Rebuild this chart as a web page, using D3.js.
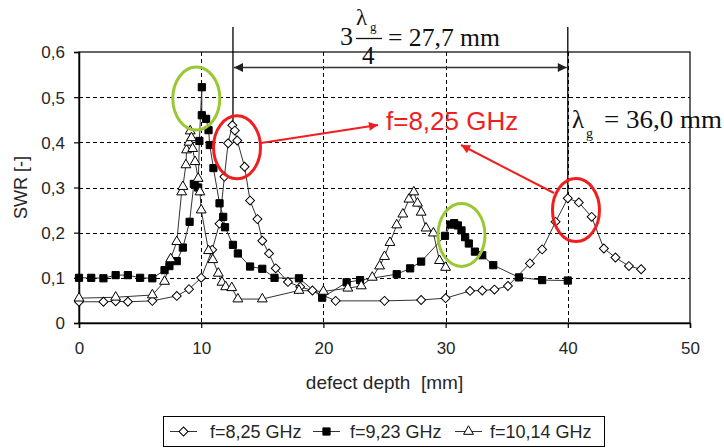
<!DOCTYPE html>
<html><head><meta charset="utf-8">
<script src="https://cdn.jsdelivr.net/npm/d3@7"></script>
<style>
html,body{margin:0;padding:0;background:#fff;}
svg{display:block;}
</style></head>
<body>
<svg id="chart" width="724" height="448"></svg>
<script>
// ---- data ----
const seriesNames = ["f=8,25 GHz", "f=9,23 GHz", "f=10,14 GHz"];
const xTicks = [0, 10, 20, 30, 40, 50];
const yTicks = [0, 0.1, 0.2, 0.3, 0.4, 0.5, 0.6];
const s825 = [[0,0.047],[2,0.047],[3,0.048],[4,0.047],[6,0.049],[8,0.06],[9,0.075],[10,0.10],[10.9,0.162],[11.5,0.22],[11.9,0.324],[12.2,0.398],[12.55,0.438],[12.75,0.426],[12.95,0.404],[13.55,0.346],[14.0,0.271],[14.6,0.23],[15.0,0.182],[15.55,0.154],[16.1,0.121],[17.1,0.091],[18.1,0.08],[19.1,0.072],[21,0.049],[25,0.049],[28,0.051],[30,0.055],[32,0.071],[33,0.072],[34,0.074],[35.1,0.082],[36.9,0.132],[37.9,0.163],[39,0.224],[40,0.276],[40.9,0.267],[41.95,0.235],[42.95,0.165],[43.9,0.145],[45,0.126],[46,0.119]];
const s923 = [[0,0.10],[1,0.10],[2,0.099],[3,0.106],[4,0.106],[5,0.10],[6,0.099],[7,0.117],[7.4,0.126],[8,0.137],[8.5,0.167],[9.05,0.224],[9.4,0.308],[9.75,0.300],[9.85,0.403],[10.05,0.522],[10.05,0.46],[10.4,0.452],[10.6,0.427],[10.7,0.394],[11.0,0.343],[11.5,0.265],[11.8,0.235],[11.95,0.212],[12.6,0.173],[13.0,0.154],[14.0,0.125],[15.0,0.12],[16.0,0.10],[18.0,0.099],[19.9,0.056],[21.9,0.09],[23.0,0.095],[26.0,0.108],[27.1,0.121],[28.0,0.136],[29.95,0.193],[30.4,0.218],[30.7,0.221],[31.0,0.216],[31.3,0.205],[31.6,0.19],[31.9,0.176],[32.4,0.158],[33.0,0.15],[33.9,0.128],[36.0,0.101],[37.9,0.095],[40.0,0.094]];
const s1014 = [[0,0.055],[3,0.057],[6,0.062],[7,0.092],[7.5,0.142],[8.0,0.18],[8.4,0.29],[8.5,0.302],[8.75,0.35],[8.8,0.383],[9.0,0.40],[9.1,0.425],[9.2,0.41],[9.3,0.386],[9.5,0.357],[9.75,0.32],[9.9,0.29],[10.0,0.25],[10.6,0.16],[10.95,0.14],[11.4,0.11],[11.7,0.09],[12.0,0.08],[12.5,0.078],[13.0,0.053],[15.0,0.053],[18.0,0.072],[20.0,0.07],[22.0,0.077],[23.1,0.082],[24.0,0.101],[24.6,0.126],[25.0,0.147],[25.45,0.178],[26.0,0.217],[26.5,0.241],[27.0,0.274],[27.4,0.29],[27.7,0.265],[28.0,0.245],[28.4,0.21],[29.0,0.199],[29.5,0.138],[30.0,0.123]];
// annotation anchors in data units
const lambdaMarks = [[12.6, 0.44], [40.0, 0.278]];
const ellipses = [
  {x: 9.6, y: 0.497, color: "#99c832"},
  {x: 12.93, y: 0.389, color: "#f01e1e"},
  {x: 31.3, y: 0.195, color: "#99c832"},
  {x: 40.67, y: 0.25, color: "#f01e1e"}
];

// ---- layout ----
const svg = d3.select("#chart");
const L = 79, R = 690, T = 52, B = 323;
const x = d3.scaleLinear().domain([0, 50]).range([L, R]);
const y = d3.scaleLinear().domain([0, 0.6]).range([B, T]);
const fmt = d => d === 0 ? "0" : d3.format(".1f")(d).replace(".", ",");
const textCol = "#262626";
const font = "Liberation Sans, Arial, sans-serif";
const serif = "Liberation Serif, Times New Roman, serif";

// gridlines
const grid = svg.append("g").attr("stroke", "#000").attr("stroke-width", 1).attr("stroke-dasharray", "4,3");
grid.selectAll("line.h").data(yTicks.filter(d => d > 0 && d < 0.6)).join("line")
  .attr("x1", L).attr("x2", R).attr("y1", d => Math.round(y(d)) + 0.5).attr("y2", d => Math.round(y(d)) + 0.5);
grid.selectAll("line.v").data(xTicks.filter(d => d > 0 && d < 50)).join("line")
  .attr("y1", T).attr("y2", B).attr("x1", d => Math.round(x(d)) + 0.5).attr("x2", d => Math.round(x(d)) + 0.5);

// frame
svg.append("rect").attr("x", L).attr("y", T).attr("width", R - L).attr("height", B - T)
  .attr("fill", "none").attr("stroke", "#000").attr("stroke-width", 1.2);

// axes
const xAxis = svg.append("g").attr("transform", `translate(0,${B})`)
  .call(d3.axisBottom(x).tickValues(xTicks).tickSize(5).tickPadding(14).tickFormat(d3.format("d")));
const yAxis = svg.append("g").attr("transform", `translate(${L},0)`)
  .call(d3.axisLeft(y).tickValues(yTicks).tickSize(5).tickPadding(9).tickFormat(fmt));
[xAxis, yAxis].forEach(a => {
  a.select(".domain").attr("stroke", "#000").attr("stroke-width", 1.5);
  a.selectAll(".tick line").attr("stroke", "#000").attr("stroke-width", 1.2);
  a.selectAll("text").attr("fill", textCol).attr("font-size", 17).attr("font-family", font);
});
yAxis.selectAll("text").attr("dy", "0.35em");

// axis titles
svg.append("text").attr("x", x(25)).attr("y", 389).attr("text-anchor", "middle")
  .attr("font-family", font).attr("font-size", 19).attr("fill", textCol).attr("xml:space", "preserve")
  .text("defect depth  [mm]");
svg.append("text").attr("transform", `translate(27,${y(0.3)}) rotate(-90)`).attr("text-anchor", "middle")
  .attr("font-family", font).attr("font-size", 18).attr("fill", textCol).text("SWR [-]");

// series
const lineGen = d3.line().x(d => x(d[0])).y(d => y(d[1]));
const diamond = d3.symbol().type(d3.symbolSquare).size(40);
const square = d3.symbol().type(d3.symbolSquare).size(52);
const triangle = d3.symbol().type(d3.symbolTriangle).size(42);
const series = [
  {data: s825, sym: diamond, rot: 45, fill: "#fff"},
  {data: s923, sym: square, rot: 0, fill: "#000"},
  {data: s1014, sym: triangle, rot: 0, fill: "#fff"}
];
series.forEach(s => {
  svg.append("path").datum(s.data).attr("d", lineGen).attr("fill", "none")
    .attr("stroke", "#333").attr("stroke-width", 1);
});
series.forEach(s => {
  svg.append("g").selectAll("path").data(s.data).join("path")
    .attr("d", s.sym())
    .attr("transform", d => `translate(${x(d[0])},${y(d[1])}) rotate(${s.rot})`)
    .attr("fill", s.fill).attr("stroke", "#000").attr("stroke-width", 1);
});

// ---- annotations ----
const defs = svg.append("defs");
function marker(id, color, w, h) {
  defs.append("marker").attr("id", id).attr("viewBox", "0 0 10 10").attr("refX", 10).attr("refY", 5)
    .attr("markerWidth", w).attr("markerHeight", h).attr("markerUnits", "userSpaceOnUse")
    .attr("orient", "auto-start-reverse")
    .append("path").attr("d", "M0,0L10,5L0,10z").attr("fill", color);
}
marker("ak", "#222", 11, 9);
marker("ar", "#f01e1e", 13, 9);

// vertical lambda lines
const topY = 27;
svg.selectAll("line.lam").data(lambdaMarks).join("line")
  .attr("x1", d => x(d[0])).attr("x2", d => x(d[0]))
  .attr("y1", topY).attr("y2", d => y(d[1]) - 3)
  .attr("stroke", "#000").attr("stroke-width", 1.3);
// horizontal double arrow
svg.append("line").attr("x1", x(lambdaMarks[0][0]) + 1).attr("x2", x(lambdaMarks[1][0]) - 1)
  .attr("y1", 67.5).attr("y2", 67.5).attr("stroke", "#333").attr("stroke-width", 1.6)
  .attr("marker-start", "url(#ak)").attr("marker-end", "url(#ak)");

// 3 λg/4 = 27,7 mm
const t1 = svg.append("g").attr("font-family", serif).attr("fill", "#111");
t1.append("text").attr("x", 340).attr("y", 45).attr("font-size", 26).text("3");
t1.append("text").attr("x", 356).attr("y", 25).attr("font-size", 23).text("λ");
t1.append("text").attr("x", 370).attr("y", 31).attr("font-size", 13).text("g");
t1.append("line").attr("x1", 356).attr("x2", 382).attr("y1", 38.5).attr("y2", 38.5).attr("stroke", "#111").attr("stroke-width", 1.3);
t1.append("text").attr("x", 362).attr("y", 64).attr("font-size", 25).text("4");
t1.append("text").attr("x", 388).attr("y", 46).attr("font-size", 25).attr("xml:space", "preserve")
  .attr("textLength", 112).attr("lengthAdjust", "spacingAndGlyphs").text("= 27,7 mm");

// λg = 36,0 mm
const t2 = svg.append("g").attr("font-family", serif).attr("fill", "#111");
t2.append("text").attr("x", 572).attr("y", 128).attr("font-size", 25).text("λ");
t2.append("text").attr("x", 586).attr("y", 138).attr("font-size", 14).text("g");
t2.append("text").attr("x", 604).attr("y", 128).attr("font-size", 25).attr("xml:space", "preserve")
  .attr("textLength", 118).attr("lengthAdjust", "spacingAndGlyphs").text("= 36,0 mm");

// red label
svg.append("text").attr("x", 386).attr("y", 130).attr("font-family", font).attr("font-size", 26)
  .attr("fill", "#f01e1e").text("f=8,25 GHz");

// ellipses
svg.selectAll("ellipse.ann").data(ellipses).join("ellipse")
  .attr("cx", d => x(d.x)).attr("cy", d => y(d.y)).attr("rx", 23.5).attr("ry", 31.5)
  .attr("fill", "none").attr("stroke", d => d.color).attr("stroke-width", 3);

// red arrows
svg.append("line").attr("x1", 261).attr("y1", 143).attr("x2", 378).attr("y2", 125)
  .attr("stroke", "#f01e1e").attr("stroke-width", 2).attr("marker-end", "url(#ar)");
svg.append("line").attr("x1", 554).attr("y1", 193).attr("x2", 461).attr("y2", 145)
  .attr("stroke", "#f01e1e").attr("stroke-width", 2).attr("marker-end", "url(#ar)");

// ---- legend ----
const lg = svg.append("g");
lg.append("rect").attr("x", 163.5).attr("y", 416.5).attr("width", 441).attr("height", 30)
  .attr("fill", "#fff").attr("stroke", "#000").attr("stroke-width", 1);
const lx = [170, 313, 455];
const txtX = [210, 350, 490];
series.forEach((s, i) => {
  const cy = 431.5;
  lg.append("line").attr("x1", lx[i]).attr("x2", lx[i] + 27).attr("y1", cy).attr("y2", cy)
    .attr("stroke", "#333").attr("stroke-width", 1);
  lg.append("path").attr("d", s.sym()).attr("transform", `translate(${lx[i] + 13.5},${cy}) rotate(${s.rot})`)
    .attr("fill", s.fill).attr("stroke", "#000").attr("stroke-width", 1);
  lg.append("text").attr("x", txtX[i]).attr("y", cy + 6).attr("font-family", font).attr("font-size", 18)
    .attr("fill", textCol).text(seriesNames[i]);
});
</script>
</body></html>
